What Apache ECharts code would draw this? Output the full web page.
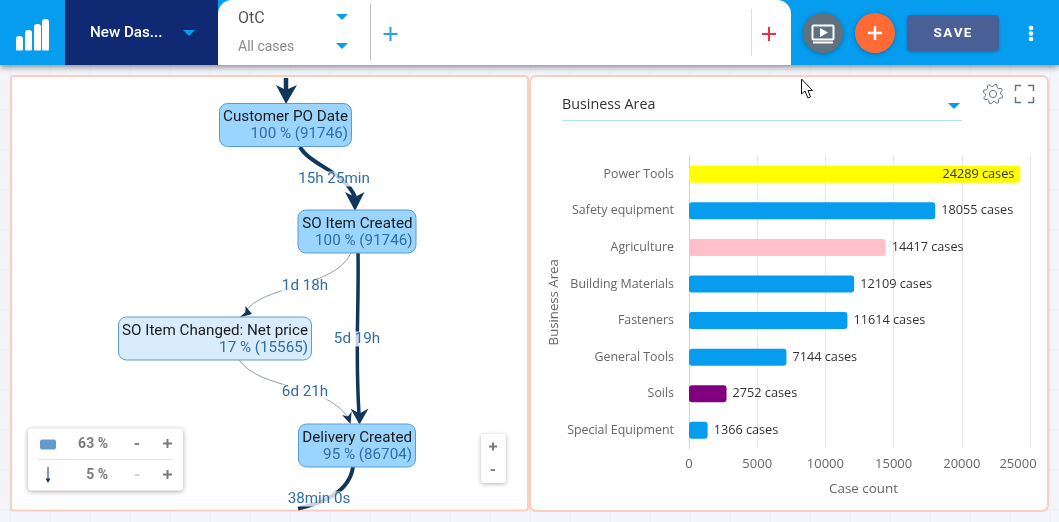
<!DOCTYPE html>
<html>
<head>
<meta charset="utf-8">
<title>Business Area</title>
<style>
  html, body { margin: 0; padding: 0; background: #f3f5fa; }
  #chart { width: 1059px; height: 522px; }
</style>
<script src="https://cdn.jsdelivr.net/npm/echarts@6/dist/echarts.min.js"></script>
</head>
<body>
<div id="chart"></div>
<script>
// 柱状图数据
const areaNames = ['Power Tools', 'Safety equipment', 'Agriculture', 'Building Materials', 'Fasteners', 'General Tools', 'Soils', 'Special Equipment']
const caseCounts = [24289, 18055, 14417, 12109, 11614, 7144, 2752, 1366]
const barColors = ['#ffff00', '#069def', '#ffc0cb', '#069def', '#069def', '#069def', '#800080', '#069def']
const xTicks = [0, 5000, 10000, 15000, 20000, 25000]

// 流程图文字
const stepNames = ['Customer PO Date', 'SO Item Created', 'SO Item Changed: Net price', 'Delivery Created']
const stepShares = ['100 % (91746)', '100 % (91746)', '17 % (15565)', '95 % (86704)']
const edgeDurations = ['15h 25min', '1d 18h', '5d 19h', '6d 21h', '38min 0s']

const chart = echarts.init(document.getElementById('chart'))
const MAP_FONT = 'Roboto'
const UI_FONT = '"Open Sans"'
const ARROW = '#12355b'
const THIN = '#8d9db2'
const els = []

const rect = (x, y, width, height, fill, r = 0, extra = {}) => els.push({
  type: 'rect', z: extra.z ?? 5, shape: { x, y, width, height, r },
  style: { fill, ...extra.style }
})
const text = (x, y, str, font, fill, align = 'left', extra = {}) => els.push({
  type: 'text', z: extra.z ?? 8,
  style: { x, y, text: str, font, fill, textAlign: align, textVerticalAlign: 'middle', ...extra.style }
})
const line = (x1, y1, x2, y2, stroke, lineWidth = 1) => els.push({
  type: 'line', z: 8, shape: { x1, y1, x2, y2 }, style: { stroke, lineWidth }
})
const poly = (points, fill, z = 7, style = {}) => els.push({
  type: 'polygon', z, shape: { points }, style: { fill, ...style }
})
const caret = (x, y) => poly([[x - 6, y - 3], [x + 6, y - 3], [x, y + 3]], '#069def')
const plus = (x, y, half, stroke, lineWidth = 2) => {
  line(x - half, y, x + half, y, stroke, lineWidth)
  line(x, y - half, x, y + half, stroke, lineWidth)
}
const curve = (p, stroke, lineWidth) => els.push({
  type: 'bezierCurve', z: 6,
  shape: { x1: p[0], y1: p[1], cpx1: p[2], cpy1: p[3], cpx2: p[4], cpy2: p[5], x2: p[6], y2: p[7] },
  style: { stroke, lineWidth, fill: 'none' }
})

// 背景网格
for (let x = 10; x < 1059; x += 40) line(x, 65, x, 522, '#e9edf6', 1)
for (let y = 70; y < 522; y += 40) line(0, y, 1059, y, '#e9edf6', 1)
els.forEach(e => { e.z = -3 })

// 顶部栏
rect(0, 0, 1059, 65, '#069def', 0, { z: 4, style: { shadowBlur: 6, shadowColor: 'rgba(0,0,0,0.45)', shadowOffsetY: 2 } })
rect(65, 0, 153, 65, '#0f2a73')
rect(218, 0, 573, 65, '#ffffff', [14, 14, 0, 0])
;[[16, 36], [25, 30], [34, 24], [42, 19]].forEach(b => rect(b[0], b[1], 7, 50.5 - b[1], '#ffffff', [3, 3, 1, 1], { z: 6 }))
text(90, 33, 'New Das...', '500 15.2px ' + MAP_FONT, '#ffffff')
caret(189, 33)
text(238, 19, 'OtC', '16px ' + MAP_FONT, '#555555')
text(238, 47, 'All cases', '14px ' + MAP_FONT, '#8a8a8a')
caret(342, 17)
caret(342, 46)
line(370.5, 4, 370.5, 60, '#bdbdbd')
plus(390.5, 34, 7, '#2a9fe8')
line(751.5, 9, 751.5, 56, '#dddddd')
plus(769, 34, 7, '#e8333c')
els.push({ type: 'circle', z: 5, shape: { cx: 823, cy: 33, r: 20 }, style: { fill: '#61717f', shadowBlur: 5, shadowColor: 'rgba(0,0,0,0.3)', shadowOffsetY: 1 } })
els.push({ type: 'circle', z: 5, shape: { cx: 875, cy: 33, r: 20 }, style: { fill: '#ff6b35', shadowBlur: 5, shadowColor: 'rgba(0,0,0,0.3)', shadowOffsetY: 1 } })
els.push({ type: 'rect', z: 6, shape: { x: 812.5, y: 25.5, width: 21, height: 14, r: 1 }, style: { fill: 'none', stroke: '#ffffff', lineWidth: 2 } })
poly([[820, 28], [828, 32.5], [820, 37]], '#ffffff')
line(813, 42.5, 833, 42.5, '#ffffff', 2)
plus(875, 33, 7, '#ffffff', 2.5)
rect(907, 15, 92, 36, '#4a5f96', 4, { style: { shadowBlur: 3, shadowColor: 'rgba(0,0,0,0.25)', shadowOffsetY: 1 } })
text(952.5, 34, 'S\u200aA\u200aV\u200aE', '700 13.5px ' + MAP_FONT, '#ffffff', 'center')
;[28, 33.5, 39].forEach(y => els.push({ type: 'circle', z: 6, shape: { cx: 1031, cy: y, r: 2.3 }, style: { fill: '#ffffff' } }))

// 左右面板
const panelStyle = { stroke: '#fbcfbd', lineWidth: 2 }
rect(11, 76, 517, 434.5, '#ffffff', 3, { z: -1, style: panelStyle })
rect(530, 76, 518, 435, '#ffffff', 6, { z: -1, style: panelStyle })

// 流程图连线
curve([286, 78, 286, 81, 286, 86, 286, 92], ARROW, 4.5)
poly([[276, 85], [286, 104], [297, 85], [286, 90]], ARROW)
curve([300, 147, 310, 165, 345, 172, 355, 197], ARROW, 4)
poly([[345, 192], [355, 211], [364.5, 192], [355, 197]], ARROW)
curve([358, 253, 359, 310, 355, 350, 359, 414], ARROW, 3.5)
poly([[350.5, 408.5], [359.5, 424.5], [368.5, 408.5], [359.5, 413.5]], ARROW)
curve([351, 253, 335, 288, 262, 285, 245, 312], THIN, 1)
poly([[239.4, 317.5], [252, 314], [245.5, 306], [245.5, 312]], ARROW)
curve([239, 360, 262, 391, 322, 382, 348, 417], THIN, 1)
poly([[350.6, 424], [342, 415], [348, 416.5], [351.6, 411.5]], ARROW)
curve([353, 467, 349, 493, 322, 503, 298, 508.5], ARROW, 4)

// 流程图节点
const boxes = [[219.5, 103.5, 132, 43], [298, 210, 118, 43], [118.5, 317, 193, 43], [298.5, 424, 117, 43]]
const boxFills = ['#99d5ff', '#99d5ff', '#d9ecfb', '#99d5ff']
stepNames.forEach((name, i) => {
  const b = boxes[i]
  rect(b[0], b[1], b[2], b[3], boxFills[i], 8, { z: 7, style: { stroke: '#5b9bd0', lineWidth: 1 } })
  text(b[0] + b[2] - 3.5, b[1] + 14, name, '15.2px ' + MAP_FONT, '#1a1a1a', 'right', { z: 9 })
  text(b[0] + b[2] - 3.5, b[1] + 31, stepShares[i], '15.2px ' + MAP_FONT, '#2f6ea5', 'right', { z: 9 })
})
const durationAt = [[334, 179], [305, 286.5], [357, 339], [305, 392], [319, 499]]
edgeDurations.forEach((d, i) => text(durationAt[i][0], durationAt[i][1], d, '15.2px ' + MAP_FONT, '#2f6ea5', 'center', {
  z: 9, style: { backgroundColor: 'rgba(255,255,255,0.78)' }
}))

// 图例框
rect(28, 428.5, 155, 62, '#ffffff', 3, { z: 7, style: { shadowBlur: 5, shadowColor: 'rgba(0,0,0,0.35)', shadowOffsetY: 1 } })
rect(40, 439.5, 16, 10, '#6699cc', 2, { z: 8 })
text(108, 444.5, '63 %', '700 14px ' + MAP_FONT, '#7a7a7a', 'right')
text(137, 444.5, '-', '700 16px ' + MAP_FONT, '#7a7a7a', 'center')
plus(167.5, 443.5, 4.5, '#7a7a7a', 2)
line(38, 459.5, 173, 459.5, '#e2e2e2')
line(48, 467, 48, 479, ARROW, 1)
poly([[45.5, 478.5], [50.5, 478.5], [48, 483]], ARROW, 8)
text(108, 475.5, '5 %', '700 14px ' + MAP_FONT, '#7a7a7a', 'right')
text(137, 475.5, '-', '700 16px ' + MAP_FONT, '#cfcfcf', 'center')
plus(167.5, 474.5, 4.5, '#7a7a7a', 2)

// 缩放按钮
rect(481, 434, 25, 49, '#ffffff', 3, { z: 7, style: { shadowBlur: 4, shadowColor: 'rgba(0,0,0,0.3)', shadowOffsetY: 1 } })
plus(493, 446.5, 4, '#7a7a7a', 2)
text(493, 471, '-', '700 16px ' + MAP_FONT, '#7a7a7a', 'center')

// 右侧面板头部
text(562, 105, 'Business Area', '14.3px ' + UI_FONT, '#333333')
line(562, 120.5, 962, 120.5, '#b3e2f8')
caret(954, 106)
const gear = []
for (let i = 0; i < 32; i++) {
  const a = (i / 32) * Math.PI * 2 + Math.PI / 16
  const r = [10, 10, 7.6, 7.6][i % 4]
  gear.push([993 + r * Math.cos(a), 94 + r * Math.sin(a)])
}
poly(gear, 'none', 7, { stroke: '#5f7183', lineWidth: 1 })
els.push({ type: 'circle', z: 7, shape: { cx: 993, cy: 94, r: 3.6 }, style: { fill: 'none', stroke: '#5f7183', lineWidth: 1 } })
const corners = [[1015.5, 91, 1015.5, 85.5, 1021, 85.5], [1028, 85.5, 1033.5, 85.5, 1033.5, 91], [1015.5, 97, 1015.5, 102.5, 1021, 102.5], [1028, 102.5, 1033.5, 102.5, 1033.5, 97]]
corners.forEach(c => els.push({
  type: 'polyline', z: 7, shape: { points: [[c[0], c[1]], [c[2], c[3]], [c[4], c[5]]] },
  style: { stroke: '#5f7183', lineWidth: 1.4, fill: 'none' }
}))
// 鼠标指针
poly([[801.5, 79], [801.5, 94], [805, 91], [808, 98], [810.5, 97], [808, 90.5], [812.5, 90.5]], '#ffffff', 20, { stroke: '#111111', lineWidth: 1 })

const option = {
  animation: false,
  textStyle: { fontFamily: UI_FONT },
  grid: { left: 689, right: 29, top: 156, height: 292.6 },
  xAxis: {
    type: 'value',
    min: xTicks[0],
    max: xTicks[xTicks.length - 1],
    interval: xTicks[1] - xTicks[0],
    name: 'Case count',
    nameLocation: 'middle',
    nameGap: 34.5,
    nameTextStyle: { color: '#666666', fontSize: 13.4, padding: [0, 0, 0, 8] },
    axisLine: { show: false },
    axisTick: { show: false },
    splitLine: { lineStyle: { color: '#e4e7ee' } },
    axisLabel: {
      margin: 9.5,
      color: '#666666',
      fontSize: 13,
      hideOverlap: false,
      // 最后一个刻度文字向左收一点，避免贴边
      formatter: v => (v === xTicks[xTicks.length - 1] ? '{last|' + v + '}' : String(v)),
      rich: { last: { color: '#666666', fontSize: 13, padding: [0, 24, 0, 0] } }
    }
  },
  yAxis: {
    type: 'category',
    inverse: true,
    data: areaNames,
    name: 'Business Area',
    nameLocation: 'middle',
    nameGap: 128,
    nameTextStyle: { color: '#666666', fontSize: 13.2 },
    axisLine: { lineStyle: { color: '#c5d5ea' } },
    axisTick: { show: false },
    axisLabel: { margin: 15, color: '#666666', fontSize: 12.4, padding: [0, 0, 7, 0] }
  },
  series: [
    {
      type: 'bar',
      barWidth: 17,
      data: caseCounts.map((value, i) => ({
        value,
        itemStyle: { color: barColors[i], borderRadius: 3 },
        label: { position: i === 0 ? 'insideRight' : 'right' }
      })),
      label: {
        show: true,
        distance: 6,
        color: '#333333',
        fontSize: 12.7,
        formatter: p => p.value + ' cases'
      }
    }
  ],
  graphic: { elements: els }
}

chart.setOption(option)
</script>
</body>
</html>
